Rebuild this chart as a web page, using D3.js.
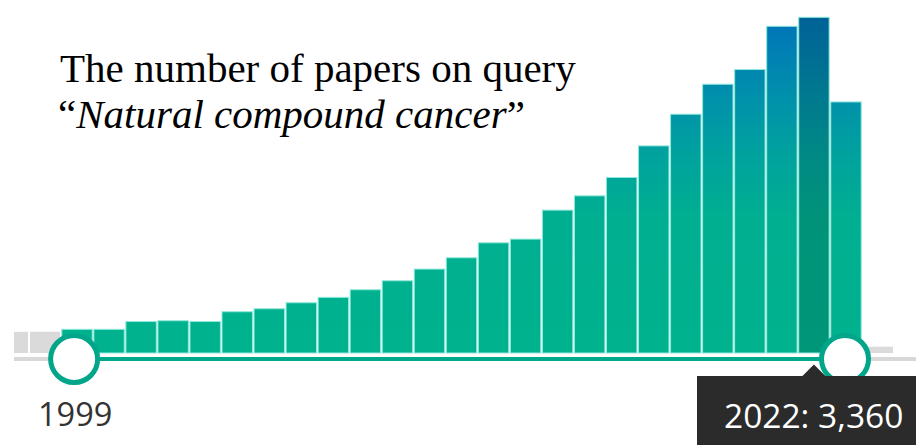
<!DOCTYPE html>
<html>
<head>
<meta charset="utf-8">
<script src="https://cdn.jsdelivr.net/npm/d3@7"></script>
<style>
  html, body { margin: 0; padding: 0; background: #ffffff; }
  svg { display: block; }
</style>
</head>
<body>
<svg id="chart" width="916" height="445"></svg>
<script>
// Yearly paper counts inside the selected range
const years = [1999, 2000, 2001, 2002, 2003, 2004, 2005, 2006, 2007, 2008, 2009, 2010,
               2011, 2012, 2013, 2014, 2015, 2016, 2017, 2018, 2019, 2020, 2021, 2022, 2023];
const counts = [237, 237, 315, 323, 315, 413, 443, 503, 557, 633, 723, 840,
                953, 1103, 1140, 1430, 1573, 1757, 2073, 2390, 2690, 2837, 3270, 3360, 2513];

// Years just outside the selected range (drawn in grey)
const outsideYears = [1997, 1998, 2024];
const outsideCounts = [212, 213, 63];

const rangeStart = 1999;
const rangeEnd = 2022;
const hoverYear = 2022;
const startLabel = "1999";

const titleLine1 = "The number of papers on query";
const titleLine2 = "Natural compound cancer";

const W = 916, H = 445;
const svg = d3.select("#chart");
const defs = svg.append("defs");

const allYears = d3.range(1997, 2025);
const step = 32.04;
const x = d3.scaleBand()
  .domain(allYears)
  .range([61 - 2 * step, 61 + 26 * step])
  .padding(0);

const baseY = 353;
const y = d3.scaleLinear().domain([0, 3360]).range([baseY, 17.3]);

// Vertical colour ramp shared by all bars (blue at the top, green lower down)
function ramp(id, stops) {
  const g = defs.append("linearGradient")
    .attr("id", id)
    .attr("gradientUnits", "userSpaceOnUse")
    .attr("x1", 0).attr("x2", 0)
    .attr("y1", 0).attr("y2", baseY);
  stops.forEach(s => g.append("stop").attr("offset", s[0]).attr("stop-color", s[1]));
}
ramp("barFill", [
  [0.0, "#006bb5"],
  [0.07, "#0076b8"],
  [0.28, "#0091ab"],
  [0.45, "#00a39d"],
  [0.62, "#00af90"],
  [1.0, "#00b28e"]
]);
ramp("barFillHover", [
  [0.0, "#005d98"],
  [0.07, "#006497"],
  [0.28, "#007a8f"],
  [0.45, "#008a84"],
  [0.62, "#00937a"],
  [1.0, "#009678"]
]);

defs.append("clipPath").attr("id", "plotClip")
  .append("rect").attr("x", 14).attr("y", 0).attr("width", W - 14).attr("height", baseY + 1);

const plot = svg.append("g").attr("clip-path", "url(#plotClip)");

// Grey bars outside the range
plot.selectAll("rect.outside")
  .data(outsideYears.map((yr, i) => ({ yr, v: outsideCounts[i] })))
  .join("rect")
  .attr("class", "outside")
  .attr("x", d => x(d.yr) + 1)
  .attr("y", d => y(d.v))
  .attr("width", x.bandwidth() - 2)
  .attr("height", d => baseY - y(d.v))
  .attr("fill", "#dadada");

// Bars inside the range
plot.selectAll("rect.bar")
  .data(years.map((yr, i) => ({ yr, v: counts[i] })))
  .join("rect")
  .attr("class", "bar")
  .attr("x", d => x(d.yr) + 0.8)
  .attr("y", d => y(d.v))
  .attr("width", x.bandwidth() - 1.6)
  .attr("height", d => baseY - y(d.v))
  .attr("fill", d => d.yr === hoverYear ? "url(#barFillHover)" : "url(#barFill)")
  .attr("stroke", "#8fe9dc")
  .attr("stroke-width", 1);

// Range slider track
const trackY = 359;
const leftHandle = x(rangeStart) + 0.41 * step;
const rightHandle = x(rangeEnd) + 1.47 * step;

svg.append("rect").attr("x", 14).attr("y", trackY - 2).attr("width", leftHandle - 14).attr("height", 4)
  .attr("fill", "#d8d8d8");
svg.append("rect").attr("x", rightHandle).attr("y", trackY - 2).attr("width", W - rightHandle).attr("height", 4)
  .attr("fill", "#d8d8d8");
svg.append("rect").attr("x", leftHandle).attr("y", trackY - 2).attr("width", rightHandle - leftHandle).attr("height", 4)
  .attr("fill", "#00a98b");

// Handles
[leftHandle, rightHandle].forEach(cx => {
  svg.append("circle")
    .attr("cx", cx).attr("cy", trackY)
    .attr("r", 23.5)
    .attr("fill", "#ffffff")
    .attr("stroke", "#00a58a")
    .attr("stroke-width", 5);
});

// Start year label
svg.append("text")
  .attr("x", 38).attr("y", 426)
  .attr("font-family", "'Open Sans', 'Noto Sans', sans-serif")
  .attr("font-size", 32.5)
  .attr("fill", "#333333")
  .text(startLabel);

// Tooltip for the hovered year
const hoverIdx = years.indexOf(hoverYear);
const tipX = x(hoverYear) + x.bandwidth() / 2;
const tip = svg.append("g");
tip.append("rect")
  .attr("x", 697).attr("y", 376)
  .attr("width", W - 697).attr("height", H - 376)
  .attr("fill", "#2b2b2b");
tip.append("path")
  .attr("d", `M${tipX - 12},376.5 L${tipX},364.5 L${tipX + 12},376.5 Z`)
  .attr("fill", "#2b2b2b");
tip.append("text")
  .attr("x", 724).attr("y", 428)
  .attr("font-family", "'Open Sans', 'Noto Sans', sans-serif")
  .attr("font-size", 33.5)
  .attr("fill", "#ffffff")
  .text(`${hoverYear}: ${d3.format(",")(counts[hoverIdx])}`);

// Title
const title = svg.append("text")
  .attr("font-family", "'Liberation Serif', 'Times New Roman', serif")
  .attr("font-size", 41)
  .attr("fill", "#000000");
title.append("tspan").attr("x", 60).attr("y", 82).text(titleLine1);
const l2 = title.append("tspan").attr("x", 58).attr("y", 128);
l2.append("tspan").text("\u201C");
l2.append("tspan").attr("font-style", "italic").text(titleLine2);
l2.append("tspan").text("\u201D");
</script>
</body>
</html>
